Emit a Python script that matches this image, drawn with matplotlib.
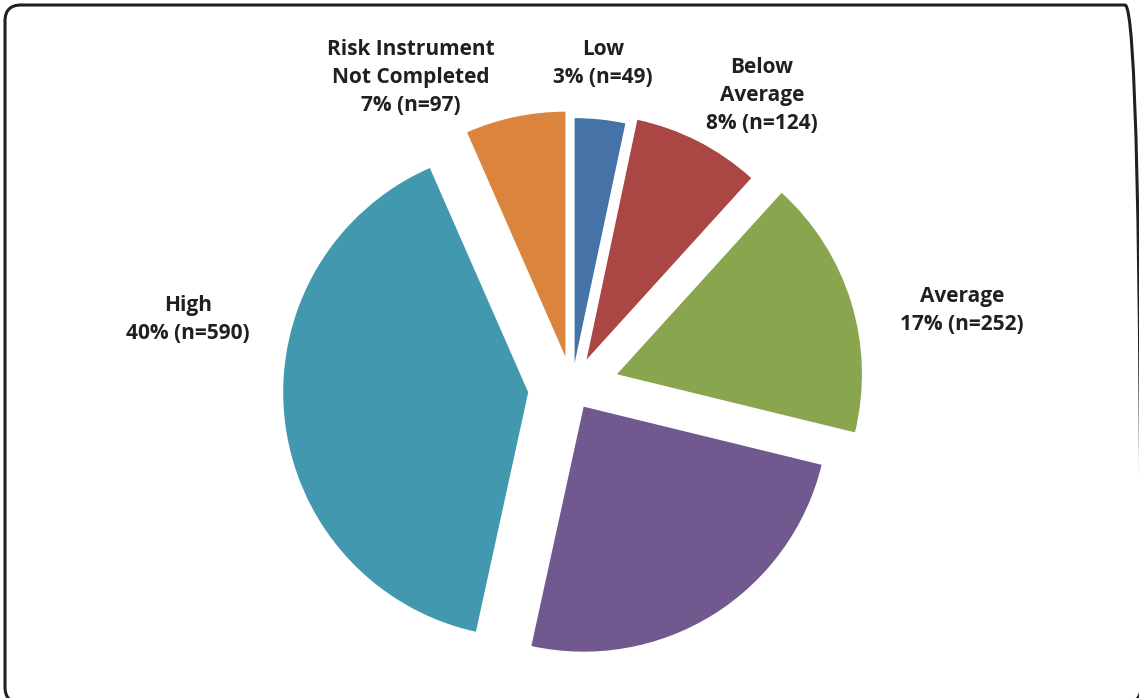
import matplotlib.pyplot as plt
from matplotlib.patches import FancyBboxPatch

# Risk level counts, drawn clockwise from 12 o'clock
categories = ['Low', 'Below\nAverage', 'Average', 'Above Average', 'High',
              'Risk Instrument\nNot Completed']
counts = [49, 124, 252, 363, 590, 97]
show_label = [True, True, True, False, True, True]

colors = ['#4572a7', '#aa4643', '#89a54e', '#71588f', '#4198af', '#db843d']
explode = [25, 32, 47, 22, 44, 32]  # in pixels, pie radius is 245

W, H = 1139, 698
fig = plt.figure(figsize=(W / 100, H / 100), dpi=100)
ax = fig.add_axes([0, 0, 1, 1])

ax.pie(counts, colors=colors, explode=explode, startangle=90, counterclock=False,
       radius=245, center=(572, H - 388), wedgeprops=dict(linewidth=0))
ax.set_aspect('auto')
ax.set_xlim(0, W)
ax.set_ylim(0, H)
ax.axis('off')

# label text positions (x centre, top of first line) in pixels from the top-left
label_pos = [(603, 39), (762, 57), (962, 286), None, (188, 295), (411, 39)]
total = sum(counts)
for name, n, show, pos in zip(categories, counts, show_label, label_pos):
    if not show:
        continue
    pct = round(100 * n / total)
    text = f'{name}\n{pct}% (n={n})'
    ax.text(pos[0], H - pos[1], text, ha='center', va='top', ma='center',
            fontsize=15, fontweight='bold', family='Open Sans', color='#231f20',
            linespacing=1.45)

# rounded frame, running off the right and bottom edges
frame = FancyBboxPatch((5, H - 703), 1136, 698, boxstyle='round,pad=0,rounding_size=16',
                       fill=False, edgecolor='#231f20', linewidth=2.2, clip_on=False)
ax.add_patch(frame)

fig.savefig('out.png', dpi=100)
